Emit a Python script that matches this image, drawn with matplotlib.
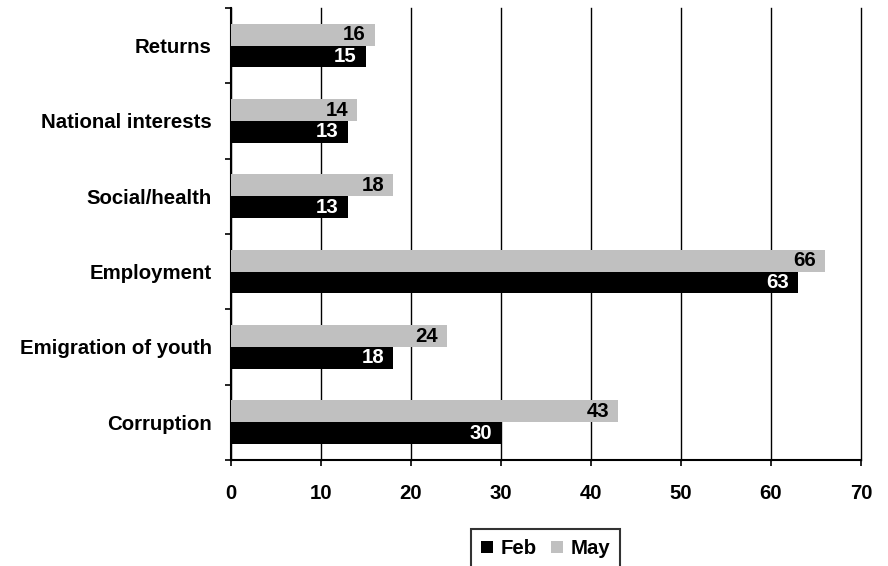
import matplotlib
matplotlib.use("Agg")
import matplotlib.pyplot as plt
from matplotlib.patches import Patch
import numpy as np

categories = ["Returns", "National interests", "Social/health", "Employment",
              "Emigration of youth", "Corruption"]
feb = [15, 13, 13, 63, 18, 30]
may = [16, 14, 18, 66, 24, 43]
xticks = [0, 10, 20, 30, 40, 50, 60, 70]

plt.rcParams["font.family"] = ["Liberation Sans", "DejaVu Sans"]
plt.rcParams["font.weight"] = "bold"
FS = 14.7

fig = plt.figure(figsize=(8.88, 5.66), dpi=100)
ax = fig.add_axes([0.2601, 0.1873, 0.7095, 0.7986])

n = len(categories)
pos = np.arange(n)[::-1]  # first category at top
h = 0.29

ax.barh(pos + h / 2, may, height=h, color="#c0c0c0", zorder=3)
ax.barh(pos - h / 2, feb, height=h, color="#000000", zorder=3)

for y, v in zip(pos, may):
    ax.annotate(str(v), xy=(v, y + h / 2), xytext=(-6.5, 0), textcoords="offset points",
                ha="right", va="center", fontsize=FS, fontweight="bold",
                color="black", zorder=4)
for y, v in zip(pos, feb):
    ax.annotate(str(v), xy=(v, y - h / 2), xytext=(-6.5, 0), textcoords="offset points",
                ha="right", va="center", fontsize=FS, fontweight="bold",
                color="white", zorder=4)

ax.set_xlim(0, 70)
ax.set_ylim(-0.5, n - 0.5)
ax.set_xticks(xticks)
ax.set_xticklabels([str(t) for t in xticks], fontsize=FS, fontweight="bold")
ax.tick_params(axis="x", direction="out", length=4.5, width=1.2, pad=13)

# category labels centred, tick marks at group boundaries
ax.set_yticks(np.arange(-0.5, n, 1.0))
ax.set_yticklabels([])
ax.set_yticks(pos, minor=True)
ax.set_yticklabels(categories, minor=True, fontsize=FS, fontweight="bold")
ax.tick_params(axis="y", which="major", direction="out", length=4.5, width=1.2)
ax.tick_params(axis="y", which="minor", length=0, pad=13.7)

ax.grid(axis="x", color="black", linewidth=1.0, zorder=0)
for gl in ax.get_xgridlines():
    gl.set_clip_on(False)
for side in ("top", "right"):
    ax.spines[side].set_visible(False)
for side in ("left", "bottom"):
    ax.spines[side].set_linewidth(1.5)

handles = [Patch(facecolor="black", label="Feb"), Patch(facecolor="#c0c0c0", label="May")]
leg = fig.legend(handles=handles, loc="upper left", bbox_to_anchor=(471 / 888, 1 - 529 / 566),
                 ncol=2, frameon=True, fancybox=False, edgecolor="black",
                 prop={"size": FS, "weight": "bold"}, handlelength=0.6, handleheight=0.6,
                 handletextpad=0.35, columnspacing=0.7, borderpad=0.5, borderaxespad=0)
leg.get_frame().set_linewidth(1.5)

fig.savefig("out.png", dpi=100)
